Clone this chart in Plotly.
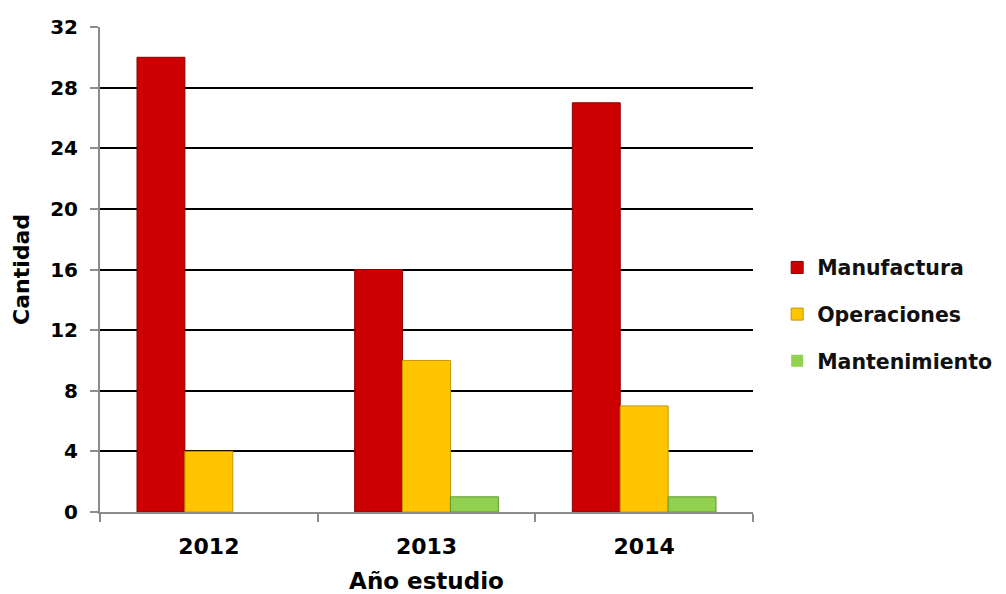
import plotly.graph_objects as go

years = ["2012", "2013", "2014"]
manufactura = [30, 16, 27]
operaciones = [4, 10, 7]
mantenimiento = [0, 1, 1]
y_ticks = [0, 4, 8, 12, 16, 20, 24, 28, 32]

series = [
    ("Manufactura", manufactura, "#CC0000", "#8A0000"),
    ("Operaciones", operaciones, "#FFC600", "#C99400"),
    ("Mantenimiento", mantenimiento, "#92D050", "#5E9A2A"),
]

font_family = "DejaVu Sans, Verdana, sans-serif"

fig = go.Figure()
for name, vals, fill, edge in series:
    fig.add_trace(go.Bar(
        x=years, y=vals, name=name, legendgroup=name,
        marker=dict(
            color=fill,
            line=dict(color=edge, width=[1 if v else 0 for v in vals]),
        ),
    ))

fig.update_layout(
    width=1006, height=594,
    margin=dict(l=100, r=253, t=27, b=82, autoexpand=False),
    paper_bgcolor="white", plot_bgcolor="white",
    barmode="group", bargap=0.34, bargroupgap=0,
    font=dict(family=font_family, color="#000000"),
    showlegend=True,
    legend=dict(
        x=1.037, y=0.408, xanchor="left", yanchor="middle",
        font=dict(size=20.5, family=font_family, color="#111111", weight="bold"),
        traceorder="grouped", tracegroupgap=17,
        bgcolor="rgba(0,0,0,0)",
    ),
    xaxis=dict(
        type="category", automargin=False,
        showline=True, linecolor="#8C8C8C", linewidth=2,
        ticks="outside", tickson="boundaries", ticklen=8,
        tickcolor="#8C8C8C", tickwidth=2,
        ticklabelstandoff=14,
        tickfont=dict(size=22, family=font_family, weight="bold"),
        title=dict(text="Año estudio", font=dict(size=23, family=font_family, weight="bold"), standoff=14),
        showgrid=False,
    ),
    yaxis=dict(
        range=[0, 32], tickvals=y_ticks, automargin=False,
        showline=True, linecolor="#8C8C8C", linewidth=2,
        ticks="outside", ticklen=8, tickcolor="#8C8C8C", tickwidth=2,
        ticklabelstandoff=8,
        tickfont=dict(size=20, family=font_family, weight="bold"),
        showgrid=True, gridcolor="#000000", gridwidth=1.6,
        zeroline=False,
        title=dict(text="Cantidad", font=dict(size=22, family=font_family, weight="bold"), standoff=14),
    ),
)

fig.write_html("out.html")
